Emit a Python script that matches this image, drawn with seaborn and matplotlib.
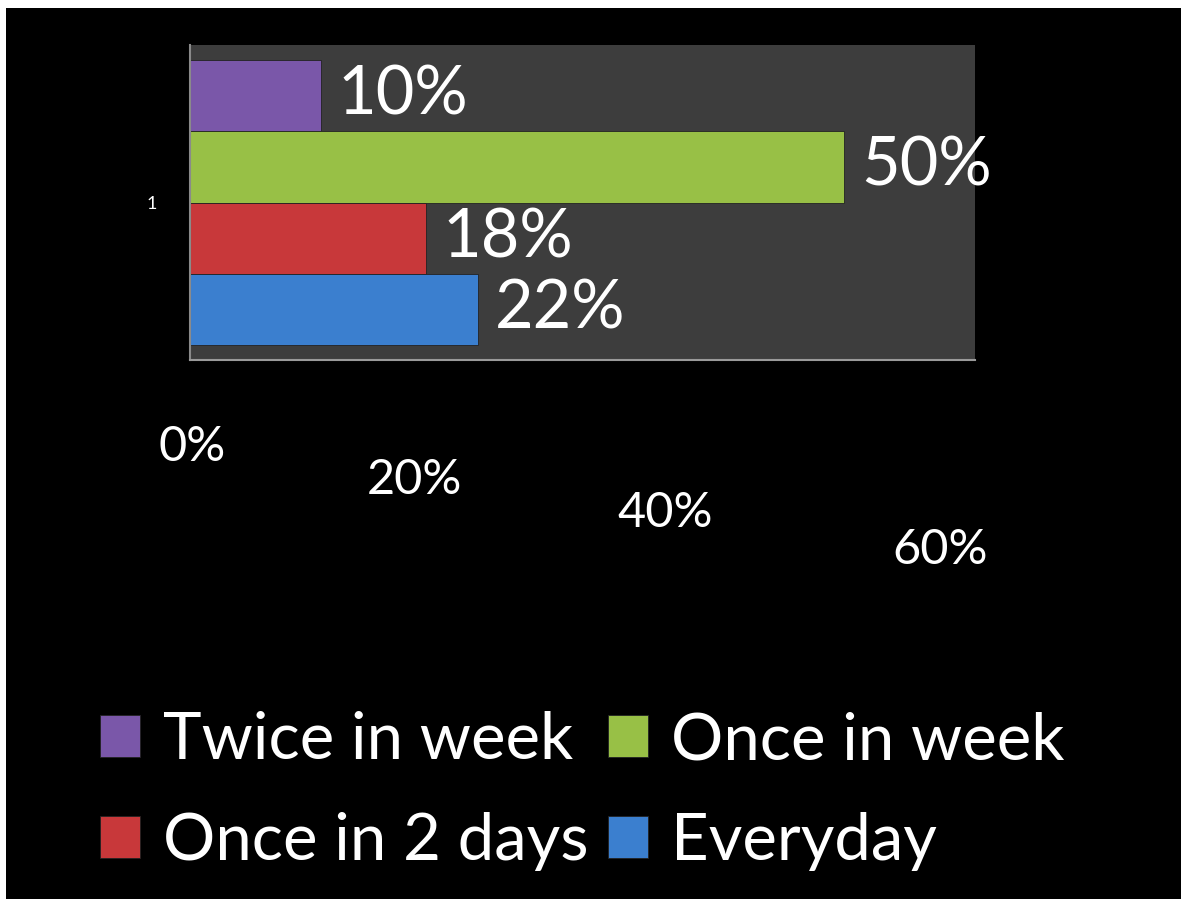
import matplotlib
matplotlib.use("Agg")
import matplotlib.pyplot as plt
import seaborn as sns
import pandas as pd

# ---- data ----
series = ["Twice in week", "Once in week", "Once in 2 days", "Everyday"]
values = [0.10, 0.50, 0.18, 0.22]
value_labels = ["10%", "50%", "18%", "22%"]
category = ["1", "1", "1", "1"]
colors = ["#7a57a9", "#98c046", "#c8383a", "#3b7fcf"]
xticks = [0.0, 0.2, 0.4, 0.6]
xtick_labels = ["0%", "20%", "40%", "60%"]

df = pd.DataFrame({"series": series, "value": values, "cat": category})

sns.set_theme(style="white")
plt.rcParams["font.family"] = ["Lato", "DejaVu Sans"]

W, H = 1181, 899
fig = plt.figure(figsize=(W / 100, H / 100), dpi=100)
fig.patch.set_facecolor("white")

# black slide background (thin white strip on top/left as in reference)
bg = fig.add_axes([6 / W, 0, 1 - 6 / W, 1 - 8 / H], zorder=-5)
bg.set_facecolor("black")
bg.set_xticks([]); bg.set_yticks([])
for s in bg.spines.values():
    s.set_visible(False)

ax = fig.add_axes([190 / W, 1 - 360 / H, (975 - 190) / W, 315 / H])
ax.set_facecolor("#3d3d3d")

sns.barplot(data=df, x="value", y="cat", hue="series", hue_order=series,
            palette=colors, orient="h", width=0.905, ax=ax, legend=True,
            saturation=1, edgecolor="#222222", linewidth=0.6)

ax.set_xlim(0, 0.6)
ax.set_ylim(0.5, -0.5)
ax.set_xlabel("")
ax.set_ylabel("")

for cont, lab in zip(ax.containers, value_labels):
    ax.bar_label(cont, labels=[lab], padding=12, color="white", fontsize=48)

# x tick labels staggered like the perspective view
ax.set_xticks(xticks)
ax.set_xticklabels([])
ax.tick_params(axis="x", length=0)
offsets = [(2, -87), (-37, -120), (-48, -153), (-35, -190)]
for t, lab, (dx, dy) in zip(xticks, xtick_labels, offsets):
    ax.annotate(lab, xy=(t, 0), xycoords=ax.get_xaxis_transform(),
                xytext=(dx, dy), textcoords="offset pixels",
                ha="center", va="center", color="white", fontsize=35,
                annotation_clip=False)

ax.tick_params(axis="y", length=0, pad=24, labelcolor="white", labelsize=13)

for side in ["top", "right"]:
    ax.spines[side].set_visible(False)
ax.spines["left"].set_color("#8a8a8a")
ax.spines["bottom"].set_color("#9a9a9a")
ax.spines["left"].set_linewidth(1.5)
ax.spines["bottom"].set_linewidth(1.5)

handles, labels = ax.get_legend_handles_labels()
if ax.get_legend() is not None:
    ax.get_legend().remove()
# legend filled row-wise: Twice | Once in week / Once in 2 days | Everyday
order = [0, 2, 1, 3]
leg = fig.legend([handles[i] for i in order], [labels[i] for i in order],
                 loc="center", bbox_to_anchor=(0.493, 0.120),
                 ncol=2, frameon=False, fontsize=47, labelcolor="white",
                 handlelength=0.62, handleheight=0.62, handletextpad=0.35,
                 columnspacing=0.3, labelspacing=0.64)

fig.savefig("out.png", dpi=100, facecolor=fig.get_facecolor())
